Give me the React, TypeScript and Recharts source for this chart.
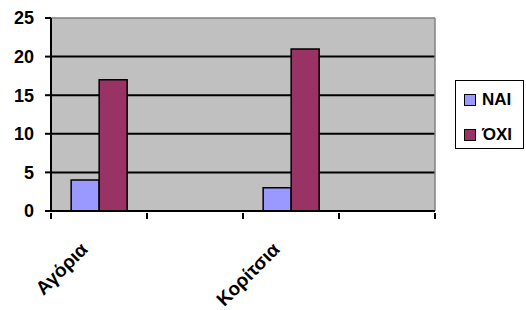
import React from 'react';
import { BarChart, Bar, XAxis, YAxis, CartesianGrid, Legend } from 'recharts';

const categories = ['Αγόρια', '', 'Κορίτσια', ''];
const naiValues = [4, null, 3, null];
const oxiValues = [17, null, 21, null];
const yTicks = [0, 5, 10, 15, 20, 25];
const seriesNames = ['ΝΑΙ', 'ΌΧΙ'];
const seriesColors = ['#9999FF', '#993366'];

const data = categories.map((c, i) => ({ cat: c, nai: naiValues[i], oxi: oxiValues[i] }));

const W = 526;
const H = 310;
const margin = { top: 18, right: 91, bottom: 0, left: 0 };
const yAxisWidth = 51;
const plotWidth = W - margin.left - margin.right - yAxisWidth;
const band = plotWidth / categories.length;
const FONT = '"Liberation Sans", Arial, sans-serif';

const XTick = (props: any) => {
  const { x, y, payload, index } = props;
  const half = band / 2;
  return (
    <g>
      <line x1={x - half} x2={x - half} y1={y - 6} y2={y} stroke="#000" strokeWidth={2} />
      {index === categories.length - 1 && (
        <line x1={x + half} x2={x + half} y1={y - 6} y2={y} stroke="#000" strokeWidth={2} />
      )}
      <g transform={`translate(${x - 15},${y + 27})`}>
        <text
          transform="rotate(-45)"
          textAnchor="end"
          dy="0.35em"
          style={{ fontFamily: FONT, fontWeight: 700, fontSize: 19 }}
          fill="#000"
        >
          {payload.value}
        </text>
      </g>
    </g>
  );
};

const YTick = (props: any) => {
  const { x, y, payload } = props;
  return (
    <text
      x={x}
      y={y}
      dy="0.35em"
      textAnchor="end"
      style={{ fontFamily: FONT, fontWeight: 700, fontSize: 18 }}
      fill="#000"
    >
      {payload.value}
    </text>
  );
};

const LegendContent = () => (
  <div
    style={{
      border: '1.5px solid #000',
      width: 69,
      height: 69,
      boxSizing: 'border-box',
      background: '#fff',
      paddingTop: 10,
      paddingLeft: 8,
    }}
  >
    {seriesNames.map((n, i) => (
      <div key={n} style={{ display: 'flex', alignItems: 'center', height: 18, marginBottom: i === 0 ? 17 : 0 }}>
        <div style={{ width: 10, height: 10, background: seriesColors[i], border: '1.5px solid #000', marginRight: 6 }} />
        <span style={{ fontFamily: FONT, fontWeight: 700, fontSize: 17, color: '#000', lineHeight: '18px' }}>{n}</span>
      </div>
    ))}
  </div>
);

export default function App() {
  return (
    <div style={{ position: 'absolute', left: 0, top: 0, width: W, height: H, background: '#fff' }}>
      <BarChart width={W} height={H} data={data} margin={margin} barCategoryGap="21%" barGap={0}>
        <CartesianGrid
          vertical={false}
          horizontalValues={[5, 10, 15, 20]}
          stroke="#000"
          strokeWidth={2}
          fill="#C0C0C0"
        />
        <CartesianGrid
          horizontalValues={[25]}
          verticalCoordinatesGenerator={({ offset }: any) => [offset.left + offset.width]}
          stroke="#808080"
          strokeWidth={1.5}
        />
        <XAxis
          dataKey="cat"
          height={99}
          axisLine={{ stroke: '#000', strokeWidth: 2 }}
          tickLine={false}
          tick={<XTick />}
          interval={0}
        />
        <YAxis
          width={yAxisWidth}
          domain={[0, 25]}
          ticks={yTicks}
          interval={0}
          axisLine={{ stroke: '#000', strokeWidth: 2 }}
          tickLine={{ stroke: '#000', strokeWidth: 2 }}
          tickSize={6}
          tickMargin={11}
          tick={<YTick />}
        />
        <Legend
          layout="vertical"
          align="center"
          verticalAlign="middle"
          wrapperStyle={{ position: 'absolute', left: 455, top: 80, width: 69 }}
          content={<LegendContent />}
        />
        <Bar dataKey="nai" name={seriesNames[0]} fill={seriesColors[0]} stroke="#000" strokeWidth={1.5} isAnimationActive={false} />
        <Bar dataKey="oxi" name={seriesNames[1]} fill={seriesColors[1]} stroke="#000" strokeWidth={1.5} isAnimationActive={false} />
      </BarChart>
    </div>
  );
}
